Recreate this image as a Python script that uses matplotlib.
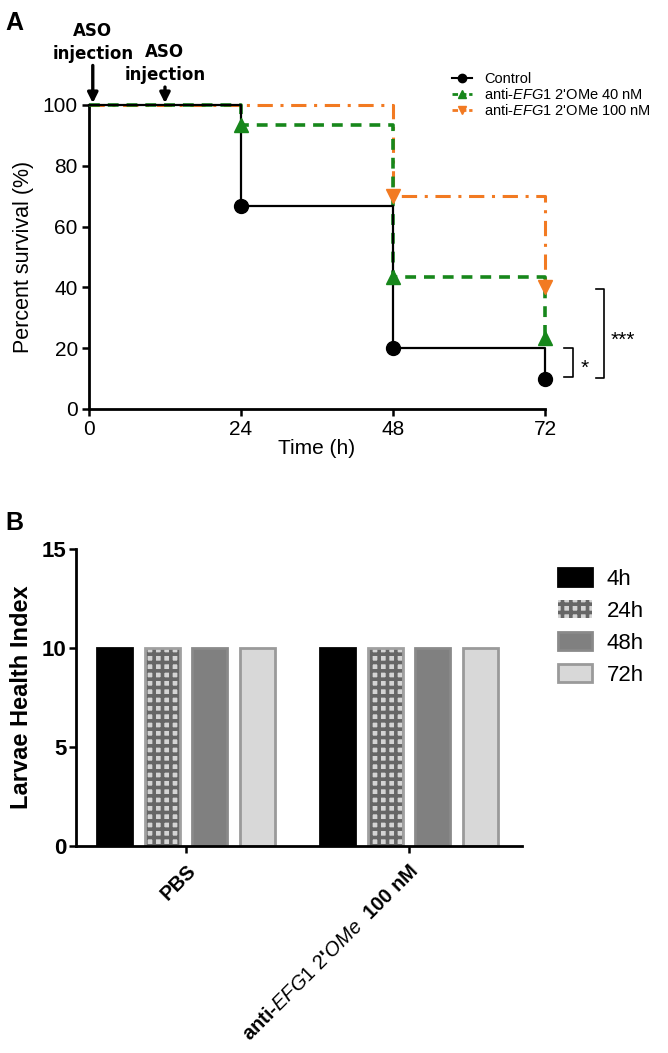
import numpy as np
import matplotlib.pyplot as plt
from matplotlib.lines import Line2D
from matplotlib.patches import Patch

plt.rcParams["font.family"] = ["Liberation Sans", "DejaVu Sans"]
plt.rcParams["mathtext.fontset"] = "custom"
plt.rcParams["mathtext.rm"] = "Liberation Sans"
plt.rcParams["mathtext.it"] = "Liberation Sans:italic"
plt.rcParams["hatch.linewidth"] = 2.6

# ---- panel A data (Kaplan-Meier survival) ----
times_ctrl = [0, 24, 48, 72]
surv_ctrl = [100, 66.7, 20, 10]
times_40 = [0, 24, 48, 72]
surv_40 = [100, 93.3, 43.3, 23.3]
times_100 = [0, 48, 72]
surv_100 = [100, 70, 40]
x_ticks_a = [0, 24, 48, 72]
y_ticks_a = [0, 20, 40, 60, 80, 100]
injection_times = [0.6, 12]

# ---- panel B data (health index) ----
groups = ["PBS", r"anti-$\mathit{EFG1}$ $\mathit{2}$'$\mathit{OMe}$  100 nM"]
timepoints = ["4h", "24h", "48h", "72h"]
health = {
    "4h": [10, 10],
    "24h": [10, 10],
    "48h": [10, 10],
    "72h": [10, 10],
}

fig = plt.figure(figsize=(6.68, 10.53), dpi=100)

# ======================= A =======================
axA = fig.add_axes([0.1332, 0.6116, 0.6826, 0.2887])
c_green = "#17871b"
c_orange = "#f27a22"

axA.step(times_100, surv_100, where="post", color=c_orange, lw=2.2,
         linestyle=(0, (5, 2.5, 1, 2.5)), clip_on=False, zorder=2)
axA.plot(times_100[1:], surv_100[1:], "v", color=c_orange, ms=10,
         clip_on=False, zorder=4)
axA.step(times_40, surv_40, where="post", color=c_green, lw=2.6,
         linestyle=(0, (3, 2.2)), clip_on=False, zorder=3)
axA.plot(times_40[1:], surv_40[1:], "^", color=c_green, ms=10,
         clip_on=False, zorder=5)
axA.step(times_ctrl, surv_ctrl, where="post", color="black", lw=1.6,
         clip_on=False, zorder=4)
axA.plot(times_ctrl[1:], surv_ctrl[1:], "o", color="black", ms=10,
         clip_on=False, zorder=6)

axA.set_xlim(0, 72)
axA.set_ylim(0, 100)
axA.set_xticks(x_ticks_a)
axA.set_yticks(y_ticks_a)
axA.tick_params(labelsize=15, width=1.8, length=5, pad=3)
for s in ["top", "right"]:
    axA.spines[s].set_visible(False)
for s in ["left", "bottom"]:
    axA.spines[s].set_linewidth(2)
axA.set_xlabel("Time (h)", fontsize=15, labelpad=0)
axA.set_ylabel("Percent survival (%)", fontsize=15.5, labelpad=6)

# injection arrows and labels
inj_text_y = [113.8, 106.9]
inj_tail_y = [113.0, 105.9]
for t, ty, tail in zip(injection_times, inj_text_y, inj_tail_y):
    axA.text(t, ty, "ASO\ninjection", ha="center", va="bottom",
             fontsize=12, fontweight="bold", family="DejaVu Sans",
             linespacing=1.35, clip_on=False)
    axA.annotate("", xy=(t, 100.6), xytext=(t, tail), annotation_clip=False,
                 arrowprops=dict(arrowstyle="-|>", lw=2.4, color="black",
                                 mutation_scale=15, shrinkA=0, shrinkB=0))

# significance brackets
axA.plot([75, 76.4, 76.4, 75], [20, 20, 10.5, 10.5], color="black", lw=1.2,
         clip_on=False)
axA.text(77.6, 13.5, "*", fontsize=15, ha="left", va="center")
axA.plot([80, 81.3, 81.3, 80], [39.6, 39.6, 10.2, 10.2], color="black",
         lw=1.2, clip_on=False)
axA.text(82.4, 22.5, "***", fontsize=15, ha="left", va="center")

handles_a = [
    Line2D([], [], color="black", lw=1.5, marker="o", ms=6),
    Line2D([], [], color=c_green, lw=2, marker="^", ms=6, linestyle=(0, (2, 1))),
    Line2D([], [], color=c_orange, lw=2, marker="v", ms=6, linestyle=(0, (2, 1))),
]
labels_a = ["Control", r"anti-$\mathit{EFG1}$ 2'OMe 40 nM",
            r"anti-$\mathit{EFG1}$ 2'OMe 100 nM"]
fig.legend(handles_a, labels_a, loc="upper left",
           bbox_to_anchor=(0.668, 0.937), frameon=False, fontsize=10.5,
           handlelength=1.4, handletextpad=0.8, labelspacing=0.05,
           borderaxespad=0)

fig.text(0.008, 0.99, "A", fontsize=18, fontweight="bold", va="top")

# ======================= B =======================
axB = fig.add_axes([0.1138, 0.1966, 0.6677, 0.2820])
styles = {
    "4h": dict(facecolor="black", edgecolor="black"),
    "24h": dict(facecolor="#d4d4d4", edgecolor="#a0a0a0"),
    "48h": dict(facecolor="#808080", edgecolor="#8a8a8a"),
    "72h": dict(facecolor="#d8d8d8", edgecolor="#9a9a9a"),
}
x = np.arange(len(groups))
pitch = 0.213
width = 0.157
for i, tp in enumerate(timepoints):
    st = styles[tp]
    pos = x + (i - 1.5) * pitch
    if tp == "24h":
        # checker pattern first, then the light grey outline on top
        axB.bar(pos, health[tp], width=width, facecolor=st["facecolor"],
                edgecolor="#666666", hatch="++", linewidth=0)
        axB.bar(pos, health[tp], width=width, facecolor="none",
                edgecolor=st["edgecolor"], linewidth=2)
    else:
        axB.bar(pos, health[tp], width=width, facecolor=st["facecolor"],
                edgecolor=st["edgecolor"], linewidth=2)

axB.set_xlim(-0.493, 1.507)
axB.set_ylim(0, 15)
axB.set_yticks([0, 5, 10, 15])
axB.set_xticks(x)
axB.set_xticklabels(groups, rotation=45, ha="right", rotation_mode="anchor",
                    fontsize=14.5, fontweight="bold")
axB.tick_params(axis="y", labelsize=16, width=1.8, length=5, pad=2)
axB.tick_params(axis="x", width=1.8, length=5, pad=6)
for lab in axB.get_yticklabels():
    lab.set_fontweight("bold")
for s in ["top", "right"]:
    axB.spines[s].set_visible(False)
for s in ["left", "bottom"]:
    axB.spines[s].set_linewidth(2)
axB.set_ylabel("Larvae Health Index", fontsize=17, fontweight="bold",
               labelpad=6)

handles_b = []
for tp in timepoints:
    st = styles[tp]
    if tp == "24h":
        handles_b.append(Patch(facecolor=st["facecolor"], edgecolor="#666666",
                               hatch="++", linewidth=0))
    else:
        handles_b.append(Patch(facecolor=st["facecolor"],
                               edgecolor=st["edgecolor"], linewidth=2))
fig.legend(handles_b, timepoints, loc="upper left",
           bbox_to_anchor=(0.822, 0.469), frameon=False, fontsize=16,
           handlelength=1.55, handleheight=0.9, handletextpad=0.65,
           labelspacing=0.45, borderaxespad=0)

fig.text(0.008, 0.515, "B", fontsize=18, fontweight="bold", va="top")

fig.savefig("out.png", dpi=100)
